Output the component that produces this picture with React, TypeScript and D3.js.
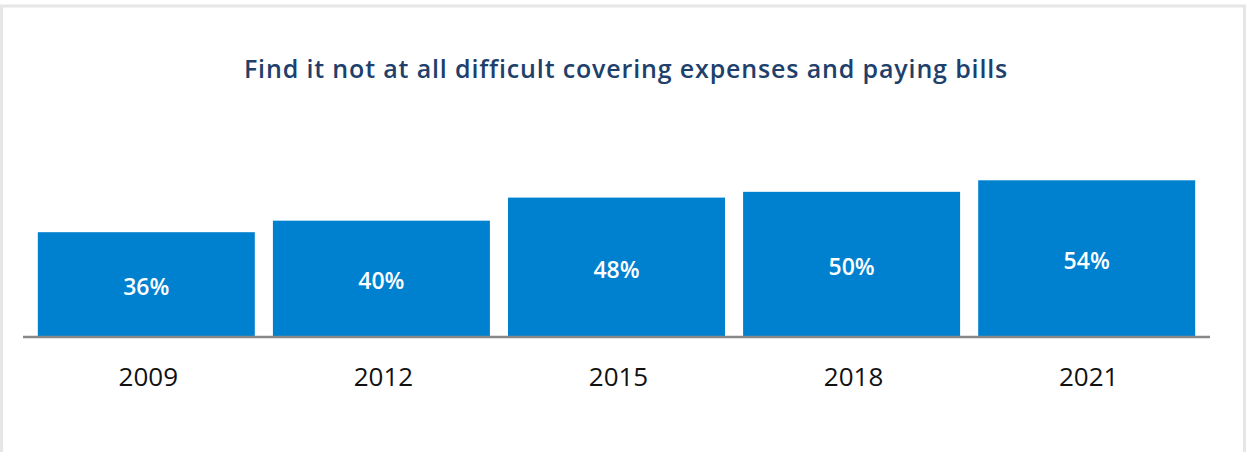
import React from 'react'
import * as d3 from 'd3'

// chart values
const years = ['2009', '2012', '2015', '2018', '2021']
const shares = [36, 40, 48, 50, 54]
const title = 'Find it not at all difficult covering expenses and paying bills'

const width = 1246
const height = 452
const marginLeft = 23
const marginRight = 36
const baseline = 336

export default function App() {
  // band scale for the five survey years
  const xScale = d3.scaleBand<string>()
    .domain(years)
    .range([marginLeft, width - marginRight])
    .paddingInner(0.077)
    .paddingOuter(0.063)

  // share of respondents -> bar height
  const yScale = d3.scaleLinear()
    .domain([0, 60])
    .range([baseline, 163])

  const fmt = (v: number) => `${v}%`

  return (
    <div style={{ position: 'absolute', left: 0, top: 0 }}>
      <svg width={width} height={height} style={{ display: 'block', fontFamily: '"Open Sans", sans-serif' }}>
        <rect x={0} y={0} width={width} height={height} fill="#ffffff" />
        {/* card outline */}
        <rect x={1.5} y={6} width={width - 3} height={height + 20} fill="none" stroke="#e5e6e8" strokeWidth={3} />

        <text x={626} y={78} textAnchor="middle" fontSize={25} fontWeight={600} fill="#203f6b"
          letterSpacing={0.85}>
          {title}
        </text>

        {years.map((yr, i) => {
          const x = xScale(yr) as number
          const y = yScale(shares[i])
          const mid = (y + baseline) / 2
          return (
            <g key={yr}>
              <rect x={x} y={y} width={xScale.bandwidth()} height={baseline - y} fill="#0081d0" />
              <text x={x + xScale.bandwidth() / 2} y={mid + 11} textAnchor="middle"
                fontSize={23} fontWeight={600} fill="#ffffff">
                {fmt(shares[i])}
              </text>
              <text x={x + xScale.bandwidth() / 2 + 2} y={386} textAnchor="middle"
                fontSize={26} fill="#111111">
                {yr}
              </text>
            </g>
          )
        })}

        {/* baseline axis */}
        <line x1={marginLeft} x2={width - marginRight} y1={baseline + 1} y2={baseline + 1}
          stroke="#888888" strokeWidth={2.5} />
      </svg>
    </div>
  )
}
